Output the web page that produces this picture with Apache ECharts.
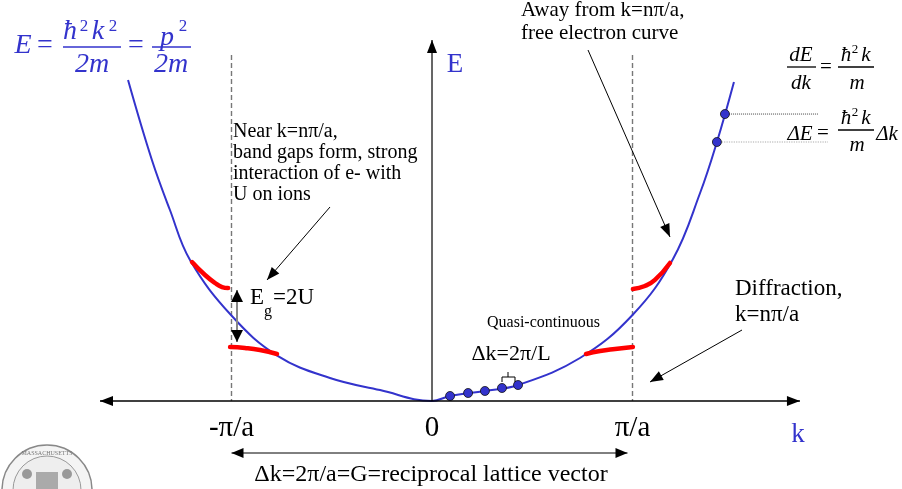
<!DOCTYPE html>
<html>
<head>
<meta charset="UTF-8">
<title>free electron band</title>
<style>
  html, body { margin: 0; padding: 0; background: #fff; }
  #main { width: 902px; height: 489px; }
</style>
<script src="https://cdn.jsdelivr.net/npm/echarts@6/dist/echarts.min.js"></script>
</head>
<body>
<div id="main"></div>
<script>
// k in units of pi/a, E in units of E(pi/a)
var curveK = [-1.516, -1.397, -1.307, -1.207, -0.998, -0.768, -0.509, -0.259, 0,
              0.090, 0.264, 0.429, 0.738, 1.0, 1.202, 1.337, 1.421, 1.506];
var curveE = [3.776, 2.835, 2.247, 1.659, 1.0, 0.529, 0.271, 0.129, 0,
              0.059, 0.118, 0.188, 0.506, 1.012, 1.671, 2.447, 3.047, 3.753];

// band-gap bends near the zone edges
var gapLeftUpK  = [-1.197, -1.132, -1.082, -1.047, -1.017];
var gapLeftUpE  = [1.635, 1.482, 1.388, 1.341, 1.329];
var gapLeftLoK  = [-1.007, -0.933, -0.858, -0.773];
var gapLeftLoE  = [0.635, 0.624, 0.600, 0.553];
var gapRightUpK = [1.002, 1.062, 1.112, 1.187];
var gapRightUpE = [1.318, 1.353, 1.424, 1.624];
var gapRightLoK = [0.768, 0.838, 0.913, 1.002];
var gapRightLoE = [0.553, 0.588, 0.612, 0.635];

// quasi-continuous states and the two states used for dE
var stateK = [0.090, 0.180, 0.264, 0.349, 0.429];
var stateE = [0.059, 0.094, 0.118, 0.153, 0.188];
var slopeK = [1.461, 1.421];
var slopeE = [3.376, 3.047];

var kTicks = [-1, 0, 1];
var kTickLabels = ['-π/a', '0', 'π/a'];

var BLUE = '#3333cc';
var SERIF = '"Liberation Serif", "DejaVu Serif", serif';

function zip(a, b) { return a.map(function (v, i) { return [v, b[i]]; }); }

function redSeg(k, e) {
  return {
    type: 'line', data: zip(k, e), smooth: 0.5, symbol: 'none', z: 3,
    lineStyle: { color: '#ff0000', width: 4.5, cap: 'round' }
  };
}

var chart = echarts.init(document.getElementById('main'));
chart.setOption({
  animation: false,
  // plot area ends on the k axis (E = 0); the tick labels hang below it
  grid: { left: 0, right: 0, top: 0, bottom: 88, containLabel: false, outerBoundsMode: 'none' },
  xAxis: {
    type: 'value', min: -2.1546, max: 2.3441, position: 'bottom',
    axisLine: { show: false, onZero: false },
    axisTick: { show: false },
    splitLine: { show: false },
    axisLabel: {
      customValues: kTicks,
      formatter: function (v) { return kTickLabels[kTicks.indexOf(Math.round(v))]; },
      fontFamily: SERIF, fontSize: 29, color: '#000', margin: 13
    }
  },
  yAxis: { type: 'value', min: 0, max: 4.7176, show: false },
  series: [
    {
      type: 'line', data: zip(curveK, curveE), smooth: 0.4, symbol: 'none', z: 2,
      lineStyle: { color: BLUE, width: 2 }
    },
    redSeg(gapLeftUpK, gapLeftUpE),
    redSeg(gapLeftLoK, gapLeftLoE),
    redSeg(gapRightUpK, gapRightUpE),
    redSeg(gapRightLoK, gapRightLoE),
    {
      type: 'line', data: [[slopeK[0], slopeE[0]], [1.925, slopeE[0]]], symbol: 'none', z: 1,
      lineStyle: { color: '#444', width: 1, type: 'dotted' }
    },
    {
      type: 'line', data: [[slopeK[1], slopeE[1]], [1.975, slopeE[1]]], symbol: 'none', z: 1,
      lineStyle: { color: '#aaa', width: 1.2, type: 'dotted' }
    },
    {
      type: 'scatter', data: zip(stateK, stateE).concat(zip(slopeK, slopeE)),
      symbolSize: 9, z: 5,
      itemStyle: { color: BLUE, borderColor: '#111', borderWidth: 0.8, opacity: 1 }
    }
  ]
});

function P(k, e) { return chart.convertToPixel({ gridIndex: 0 }, [k, e]); }

function head(x, y, ang, len, w, color) {
  var c = Math.cos(ang), s = Math.sin(ang);
  var bx = x - len * c, by = y - len * s;
  return { type: 'polygon', z: 20,
    shape: { points: [[x, y], [bx - w * s, by + w * c], [bx + w * s, by - w * c]] },
    style: { fill: color } };
}
function arrow(x1, y1, x2, y2, o) {
  o = o || {};
  var col = o.color || '#000', hc = o.headColor || col;
  var len = o.len || 12, w = o.w || 5;
  var ang = Math.atan2(y2 - y1, x2 - x1);
  var out = [{ type: 'line', z: 19, shape: { x1: x1, y1: y1, x2: x2, y2: y2 },
    style: { stroke: col, lineWidth: o.lw || 1 } }];
  out.push(head(x2, y2, ang, len, w, hc));
  if (o.both) out.push(head(x1, y1, ang + Math.PI, len, w, hc));
  return out;
}
function txt(s, x, y, size, o) {
  o = o || {};
  return { type: 'text', z: 30, style: {
    text: s, x: x, y: y, fill: o.color || '#000',
    font: (o.italic ? 'italic ' : '') + size + 'px ' + SERIF,
    textAlign: o.align || 'center', textVerticalAlign: o.va || 'middle',
    lineHeight: o.lh
  } };
}
function rule(x1, x2, y, color) {
  return { type: 'line', z: 30, shape: { x1: x1, y1: y, x2: x2, y2: y },
    style: { stroke: color, lineWidth: 1.3 } };
}

var o0 = P(0, 0);
var pl = P(-1, 0), pr = P(1, 0);
var axL = P(-1.656, 0), axR = P(1.835, 0), axT = P(0, 4.247);
var g = [];

// axes
g = g.concat(arrow(axL[0], o0[1], axR[0], o0[1], { both: true, lw: 1.5, len: 13, w: 5 }));
g = g.concat(arrow(o0[0], o0[1], o0[0], axT[1], { lw: 1.2, len: 13, w: 5 }));
// zone boundaries
[pl[0], pr[0]].forEach(function (x) {
  g.push({ type: 'line', z: 1, shape: { x1: x, y1: 55, x2: x, y2: o0[1] },
    style: { stroke: '#777', lineWidth: 1.4, lineDash: [5, 3] } });
});
// reciprocal lattice vector
g = g.concat(arrow(pl[0], 453, pr[0] - 5, 453, { both: true, len: 12, w: 5 }));
g.push(txt('Δk=2π/a=G=reciprocal lattice vector', 431, 475, 24));
// axis names
g.push(txt('E', 455, 65, 27, { color: BLUE }));
g.push(txt('k', 798, 435, 27, { color: BLUE }));

// E = hbar^2 k^2 / 2m = p^2 / 2m
g.push(txt('E', 23, 46, 28, { italic: true, color: BLUE }));
g.push(txt('=', 45, 46, 28, { color: BLUE }));
g.push(txt('ħ', 70, 32, 28, { italic: true, color: BLUE }));
g.push(txt('2', 84, 27, 17, { color: BLUE }));
g.push(txt('k', 98, 32, 28, { italic: true, color: BLUE }));
g.push(txt('2', 113, 27, 17, { color: BLUE }));
g.push(rule(63, 121, 47, BLUE));
g.push(txt('2m', 92, 65, 28, { italic: true, color: BLUE }));
g.push(txt('=', 136, 46, 28, { color: BLUE }));
g.push(txt('p', 167, 38, 28, { italic: true, color: BLUE }));
g.push(txt('2', 183, 27, 17, { color: BLUE }));
g.push(rule(152, 191, 47, BLUE));
g.push(txt('2m', 171, 65, 28, { italic: true, color: BLUE }));

// dE/dk = hbar^2 k / m
g.push(txt('dE', 801, 55, 21, { italic: true }));
g.push(rule(787, 816, 67, '#000'));
g.push(txt('dk', 801, 83, 21, { italic: true }));
g.push(txt('=', 826, 67, 21));
g.push(txt('ħ', 846, 55, 21, { italic: true }));
g.push(txt('2', 855, 50, 13));
g.push(txt('k', 866, 55, 21, { italic: true }));
g.push(rule(838, 874, 67, '#000'));
g.push(txt('m', 857, 83, 21, { italic: true }));
// dE = hbar^2 k / m dk
g.push(txt('ΔE', 800, 134, 21, { italic: true }));
g.push(txt('=', 823, 133, 21));
g.push(txt('ħ', 846, 118, 21, { italic: true }));
g.push(txt('2', 855, 113, 13));
g.push(txt('k', 866, 118, 21, { italic: true }));
g.push(rule(838, 874, 130, '#000'));
g.push(txt('m', 857, 145, 21, { italic: true }));
g.push(txt('Δk', 887, 134, 21, { italic: true }));

// annotations
g.push(txt('Near k=nπ/a,\nband gaps form, strong\ninteraction of e- with\nU on ions', 233, 121,
  20, { align: 'left', va: 'top', lh: 21 }));
g = g.concat(arrow(330, 207, 267, 280, { len: 13, w: 5 }));

g.push(txt('Away from k=nπ/a,\nfree electron curve', 521, -1, 21, { align: 'left', va: 'top', lh: 23 }));
g = g.concat(arrow(588, 50, 670, 237, { len: 13, w: 5 }));

g.push(txt('Diffraction,\nk=nπ/a', 735, 276, 23, { align: 'left', va: 'top', lh: 26 }));
g = g.concat(arrow(742, 330, 650, 382, { len: 13, w: 5 }));

// band gap
g = g.concat(arrow(237, 316, 237, 290, { color: '#888', headColor: '#000', lw: 2, len: 12, w: 6 }));
g = g.concat(arrow(237, 316, 237, 342, { color: '#888', headColor: '#000', lw: 2, len: 12, w: 6 }));
g.push(txt('E', 257, 298, 23));
g.push(txt('g', 268, 312, 16));
g.push(txt('=2U', 273, 298, 23, { align: 'left' }));

// quasi-continuous
g.push(txt('Quasi-continuous', 487, 323, 16, { align: 'left' }));
g.push(txt('Δk=2π/L', 511, 354, 22));
g.push({ type: 'polyline', z: 20, shape: { points: [[502, 382], [502, 377], [515, 377], [515, 382]] },
  style: { stroke: '#000', lineWidth: 1, fill: null } });
g.push({ type: 'line', z: 20, shape: { x1: 508, y1: 372, x2: 508, y2: 377 }, style: { stroke: '#000', lineWidth: 1 } });

// seal in the corner
g.push({ type: 'circle', z: 0, shape: { cx: 47, cy: 490, r: 45 }, style: { fill: '#f4f4f4', stroke: '#888', lineWidth: 1.5 } });
g.push({ type: 'circle', z: 0, shape: { cx: 47, cy: 490, r: 34 }, style: { fill: '#eee', stroke: '#999', lineWidth: 1 } });
g.push({ type: 'text', z: 1, style: { text: 'MASSACHUSETTS', x: 47, y: 453, font: '6px ' + SERIF, fill: '#777', textAlign: 'center', textVerticalAlign: 'middle' } });
g.push({ type: 'rect', z: 1, shape: { x: 36, y: 472, width: 22, height: 17 }, style: { fill: '#aaa' } });
g.push({ type: 'circle', z: 1, shape: { cx: 27, cy: 474, r: 5 }, style: { fill: '#999' } });
g.push({ type: 'circle', z: 1, shape: { cx: 67, cy: 474, r: 5 }, style: { fill: '#999' } });

chart.setOption({ graphic: { elements: g } });
</script>
</body>
</html>
